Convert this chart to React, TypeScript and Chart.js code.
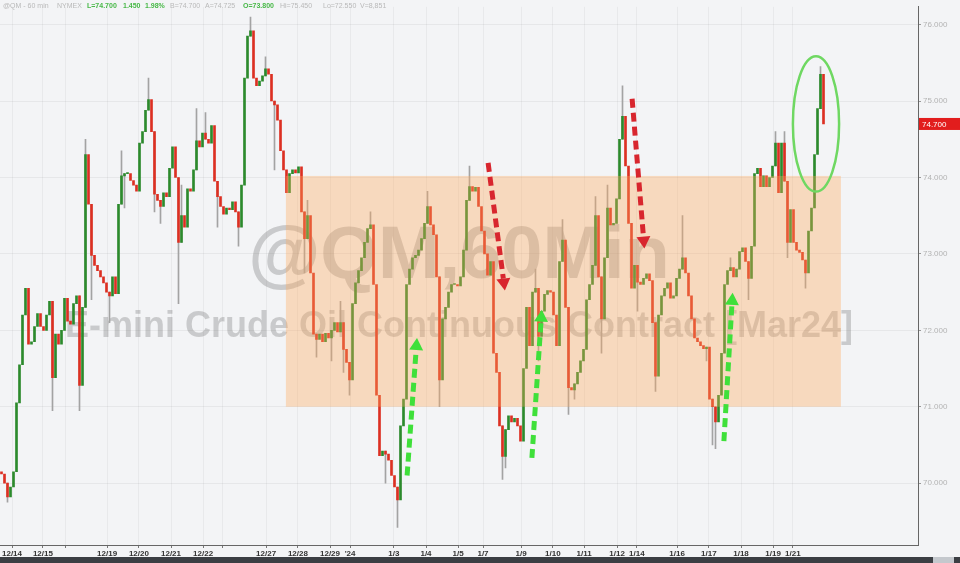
import React, { useEffect, useRef } from 'react';
import { Chart, registerables } from 'chart.js';
Chart.register(...registerables);

// ---- DATA (hourly-ish candles, open = previous close) ----
const firstOpen = 70.15;
const closesDec14to19 = [70.12, 70.0, 69.82, 69.95, 70.15, 71.05, 71.55, 72.2, 72.55, 71.82, 71.85, 72.05, 72.22, 72.05, 72.0, 72.2, 72.38, 71.38, 71.95, 71.82, 72.0, 72.42, 72.12, 72.08, 72.35, 72.45, 71.28, 72.3, 74.3, 73.65, 72.98, 72.85, 72.78, 72.7, 72.62, 72.5, 72.45, 72.7, 72.48];
const closesDec19to28 = [73.65, 74.02, 74.05, 74.05, 73.96, 73.9, 73.82, 74.45, 74.6, 74.88, 75.02, 74.6, 73.78, 73.7, 73.62, 73.8, 73.75, 74.12, 74.4, 74.0, 73.15, 73.5, 73.35, 73.85, 73.82, 74.1, 74.48, 74.4, 74.58, 74.5, 74.45, 74.68, 73.95, 73.75, 73.62, 73.52, 73.6, 73.58, 73.68, 73.55, 73.35, 73.9, 75.3, 75.85, 75.92, 75.3, 75.2, 75.26, 75.33, 75.42, 75.35, 75.0, 74.95, 74.75, 74.35, 74.1, 73.8, 74.05, 74.1, 74.06, 74.14];
const closesDec28toJan7 = [73.55, 73.2, 73.5, 72.75, 71.95, 71.88, 71.95, 71.85, 71.96, 71.9, 72.0, 72.1, 71.98, 72.1, 71.75, 71.58, 71.35, 72.35, 72.62, 72.78, 72.95, 73.15, 73.33, 73.38, 72.6, 71.15, 70.36, 70.42, 70.38, 70.3, 70.1, 69.95, 69.78, 70.75, 71.1, 72.6, 72.8, 72.95, 72.98, 73.05, 73.2, 73.4, 73.62, 73.38, 73.25, 72.7, 71.35, 72.15, 72.3, 72.5, 72.6, 72.6, 72.58, 72.7, 73.05, 73.7, 73.88, 73.82, 73.87, 73.62, 73.3];
const closesJan7to16 = [73.0, 72.72, 72.9, 71.7, 71.45, 70.75, 70.35, 70.7, 70.88, 70.8, 70.85, 70.75, 70.55, 71.5, 72.3, 71.8, 72.5, 72.55, 71.92, 72.25, 72.47, 72.52, 72.5, 72.2, 71.8, 72.9, 73.18, 72.3, 71.25, 71.22, 71.3, 71.45, 71.6, 71.75, 72.4, 72.6, 72.85, 73.5, 72.7, 72.15, 72.95, 73.6, 73.38, 73.4, 73.72, 74.5, 74.8, 74.15, 73.4, 72.55, 72.85, 72.63, 72.6, 72.68, 72.74, 72.65, 72.1, 71.4, 72.2, 72.45];
const closesJan16to22 = [72.55, 72.62, 72.42, 72.45, 72.68, 72.8, 72.95, 72.75, 72.45, 72.15, 71.9, 71.85, 71.8, 71.76, 71.78, 71.1, 71.0, 70.8, 71.15, 71.7, 72.6, 72.78, 72.82, 72.7, 72.8, 73.03, 73.08, 72.9, 72.68, 73.1, 74.05, 74.12, 73.88, 74.02, 73.88, 74.0, 74.15, 74.45, 73.8, 74.45, 73.95, 73.15, 73.58, 73.15, 73.05, 73.02, 72.92, 72.75, 73.3, 73.6, 74.3, 74.9, 75.35, 74.7];

// notable wicks: [candle index, price]
const wickHighs: [number, number][] = [[28, 74.5], [40, 74.35], [49, 75.3], [60, 73.9], [65, 74.9], [68, 74.85], [83, 76.1], [88, 75.58], [102, 73.7], [113, 72.38], [123, 73.55], [142, 73.82], [156, 74.15], [178, 72.8], [187, 73.45], [198, 73.75], [202, 73.9], [207, 75.2], [227, 73.5], [243, 72.95], [258, 74.6], [261, 74.6], [273, 75.45]];
const wickLows: [number, number][] = [[2, 69.75], [17, 70.95], [26, 70.95], [30, 72.4], [36, 72.1], [41, 73.6], [51, 73.55], [53, 73.4], [59, 72.35], [72, 73.35], [79, 73.1], [91, 74.1], [101, 72.75], [105, 71.65], [110, 71.6], [114, 71.45], [116, 71.15], [128, 70.0], [132, 69.42], [146, 71.0], [167, 70.05], [168, 70.2], [179, 71.6], [189, 70.9], [191, 71.1], [200, 71.7], [212, 72.25], [218, 71.2], [235, 71.6], [237, 70.5], [238, 70.45], [249, 72.4], [262, 72.95], [268, 72.55]];

// x-axis day labels at candle-index positions
const dayTickPos = [3.5, 13.8, 21.2, 35.2, 45.8, 56.5, 67.2, 73.8, 88.2, 98.8, 109.5, 116.2, 130.8, 141.5, 152.2, 160.5, 173.2, 183.8, 194.2, 205.2, 211.8, 225.2, 235.8, 246.5, 257.2, 263.8];
const dayTickLabels = ['12/14', '12/15', '', '12/19', '12/20', '12/21', '12/22', '', '12/27', '12/28', '12/29', "'24", '1/3', '1/4', '1/5', '1/7', '1/9', '1/10', '1/11', '1/12', '1/14', '1/16', '1/17', '1/18', '1/19', '1/21'];
const priceTicks = [70, 71, 72, 73, 74, 75, 76];

// annotations (candle index, price)
const rangeBox = { from: 94.8, to: 279.8, top: 74.02, bottom: 71.0 };
const upArrows: [number, number, number, number][] = [[135.2, 70.1, 138.5, 71.9], [176.8, 70.33, 180.1, 72.27], [240.8, 70.55, 243.7, 72.49]];
const downArrows: [number, number, number, number][] = [[162.2, 74.19, 167.8, 72.52], [210.2, 75.03, 214.3, 73.07]];
const breakoutEllipse = { x: 271.5, y: 74.7, rx: 7.7, ry: 0.885 };

const headerItems = [
  { t: '@QM - 60 min', x: 3, hi: false },
  { t: 'NYMEX', x: 57, hi: false },
  { t: 'L=74.700', x: 87, hi: true },
  { t: '1.450', x: 123, hi: true },
  { t: '1.98%', x: 145, hi: true },
  { t: 'B=74.700', x: 170, hi: false },
  { t: 'A=74.725', x: 205, hi: false },
  { t: 'O=73.800', x: 243, hi: true },
  { t: 'Hi=75.450', x: 280, hi: false },
  { t: 'Lo=72.550', x: 323, hi: false },
  { t: 'V=8,851', x: 360, hi: false },
];

const FONT = '"Liberation Sans", Arial, sans-serif';

function drawArrow(ctx: CanvasRenderingContext2D, x0: number, y0: number, x1: number, y1: number, color: string) {
  const ang = Math.atan2(y1 - y0, x1 - x0);
  const head = 12, hw = 7;
  const bx = x1 - head * Math.cos(ang), by = y1 - head * Math.sin(ang);
  ctx.save();
  ctx.strokeStyle = color;
  ctx.lineWidth = 5;
  ctx.setLineDash([9, 5]);
  ctx.beginPath();
  ctx.moveTo(x0, y0);
  ctx.lineTo(bx, by);
  ctx.stroke();
  ctx.setLineDash([]);
  ctx.fillStyle = color;
  ctx.beginPath();
  ctx.moveTo(x1, y1);
  ctx.lineTo(bx + hw * Math.sin(ang), by - hw * Math.cos(ang));
  ctx.lineTo(bx - hw * Math.sin(ang), by + hw * Math.cos(ang));
  ctx.closePath();
  ctx.fill();
  ctx.restore();
}

export default function App() {
  const ref = useRef<HTMLCanvasElement | null>(null);
  useEffect(() => {
    document.body.style.margin = '0';
    const closes = [...closesDec14to19, ...closesDec19to28, ...closesDec28toJan7, ...closesJan7to16, ...closesJan16to22];
    const opens = closes.map((c, i) => (i === 0 ? firstOpen : closes[i - 1]));
    const bodies = closes.map((c, i) => ({ x: i, y: [opens[i], c] }));
    const bodyColors = closes.map((c, i) => (c >= opens[i] ? '#2c8a2c' : '#dc3022'));
    const hiMap = new Map(wickHighs);
    const loMap = new Map(wickLows);
    const wickIdx = Array.from(new Set([...hiMap.keys(), ...loMap.keys()])).sort((a, b) => a - b);
    const wicks = wickIdx.map((i) => ({
      x: i,
      y: [loMap.has(i) ? loMap.get(i)! : Math.min(opens[i], closes[i]), hiMap.has(i) ? hiMap.get(i)! : Math.max(opens[i], closes[i])],
    }));
    const lastClose = closes[closes.length - 1];

    const bgPlugin = {
      id: 'bg',
      beforeDraw(chart: any) {
        const { ctx, width, height } = chart;
        ctx.save();
        ctx.fillStyle = '#f3f4f6';
        ctx.fillRect(0, 0, width, height);
        ctx.restore();
      },
      beforeDatasetsDraw(chart: any) {
        const { ctx, chartArea } = chart;
        const cx = (chartArea.left + chartArea.right) / 2;
        ctx.save();
        ctx.fillStyle = 'rgba(105,105,105,0.30)';
        ctx.textAlign = 'center';
        ctx.textBaseline = 'alphabetic';
        ctx.font = `bold 74px ${FONT}`;
        ctx.fillText('@QM,60Min', cx, 278);
        ctx.font = `bold 36px ${FONT}`;
        ctx.fillText('E-mini Crude Oil Continuous Contract [Mar24]', cx, 337);
        ctx.restore();
      },
      afterDatasetsDraw(chart: any) {
        const { ctx, chartArea, scales } = chart;
        const xs = scales.x, ys = scales.y;
        ctx.save();
        ctx.beginPath();
        ctx.rect(chartArea.left, chartArea.top, chartArea.right - chartArea.left, chartArea.bottom - chartArea.top);
        ctx.clip();
        const x0 = xs.getPixelForValue(rangeBox.from), x1 = xs.getPixelForValue(rangeBox.to);
        const y0 = ys.getPixelForValue(rangeBox.top), y1 = ys.getPixelForValue(rangeBox.bottom);
        ctx.fillStyle = 'rgba(255,168,92,0.36)';
        ctx.fillRect(x0, y0, x1 - x0, y1 - y0);
        for (const a of upArrows) {
          drawArrow(ctx, xs.getPixelForValue(a[0]), ys.getPixelForValue(a[1]), xs.getPixelForValue(a[2]), ys.getPixelForValue(a[3]), '#3fe03a');
        }
        for (const a of downArrows) {
          drawArrow(ctx, xs.getPixelForValue(a[0]), ys.getPixelForValue(a[1]), xs.getPixelForValue(a[2]), ys.getPixelForValue(a[3]), '#d8262e');
        }
        const ex = xs.getPixelForValue(breakoutEllipse.x), ey = ys.getPixelForValue(breakoutEllipse.y);
        const erx = xs.getPixelForValue(breakoutEllipse.x + breakoutEllipse.rx) - ex;
        const ery = ey - ys.getPixelForValue(breakoutEllipse.y + breakoutEllipse.ry);
        ctx.strokeStyle = '#6fd862';
        ctx.lineWidth = 2.5;
        ctx.beginPath();
        ctx.ellipse(ex, ey, erx, ery, 0, 0, Math.PI * 2);
        ctx.stroke();
        ctx.restore();
      },
      afterDraw(chart: any) {
        const { ctx, chartArea, scales, width, height } = chart;
        ctx.save();
        // last price tag
        const py = scales.y.getPixelForValue(lastClose);
        ctx.fillStyle = '#e21d1d';
        ctx.fillRect(chartArea.right + 1, py - 6, width - chartArea.right - 1, 12);
        ctx.fillStyle = '#ffffff';
        ctx.font = `8px ${FONT}`;
        ctx.textBaseline = 'middle';
        ctx.textAlign = 'left';
        ctx.fillText(lastClose.toFixed(3), chartArea.right + 4, py + 0.5);
        // header
        for (const h of headerItems) {
          ctx.font = `${h.hi ? 'bold ' : ''}7px ${FONT}`;
          ctx.fillStyle = h.hi ? '#47b847' : '#b9b9b9';
          ctx.fillText(h.t, h.x, 6);
        }
        // bottom scroll bar
        ctx.fillStyle = '#3b3e43';
        ctx.fillRect(0, height - 6, width, 6);
        ctx.fillStyle = '#c4c8cd';
        ctx.fillRect(933, height - 6, 21, 6);
        ctx.restore();
      },
    };

    const chart = new Chart(ref.current!, {
      type: 'bar',
      data: {
        datasets: [
          {
            data: bodies as any,
            backgroundColor: bodyColors,
            borderWidth: 0,
            barThickness: 2,
            minBarLength: 1,
            grouped: false,
          } as any,
          {
            data: wicks as any,
            backgroundColor: '#a3a3a3',
            borderWidth: 0,
            barThickness: 1,
            grouped: false,
          } as any,
        ],
      },
      options: {
        responsive: false,
        animation: false,
        events: [],
        layout: { padding: 0 },
        plugins: { legend: { display: false }, tooltip: { enabled: false } },
        scales: {
          x: {
            type: 'linear',
            min: -0.5,
            max: 305.5,
            offset: false,
            position: 'bottom',
            afterFit: (s: any) => { s.height = 18; },
            afterBuildTicks: (s: any) => { s.ticks = dayTickPos.map((v) => ({ value: v })); },
            grid: { color: 'rgba(0,0,0,0.045)', tickColor: '#777', tickLength: 3, offset: false },
            border: { color: '#666' },
            ticks: {
              autoSkip: false,
              maxRotation: 0,
              minRotation: 0,
              padding: 1,
              color: '#333',
              font: { size: 8, weight: 'bold', family: FONT },
              callback: (_v: any, i: number) => dayTickLabels[i],
            },
          },
          y: {
            type: 'linear',
            position: 'right',
            min: 69.191,
            max: 76.233,
            afterFit: (s: any) => { s.width = 42; },
            afterBuildTicks: (s: any) => { s.ticks = priceTicks.map((v) => ({ value: v })); },
            grid: { color: 'rgba(0,0,0,0.05)', tickColor: '#999', tickLength: 3 },
            border: { color: '#666' },
            ticks: {
              padding: 2,
              color: '#b3b3b3',
              font: { size: 8, family: FONT },
              callback: (v: any) => Number(v).toFixed(3),
            },
          },
        },
      } as any,
      plugins: [bgPlugin],
    });
    return () => chart.destroy();
  }, []);
  return <canvas ref={ref} width={960} height={563} style={{ display: 'block' }} />;
}
